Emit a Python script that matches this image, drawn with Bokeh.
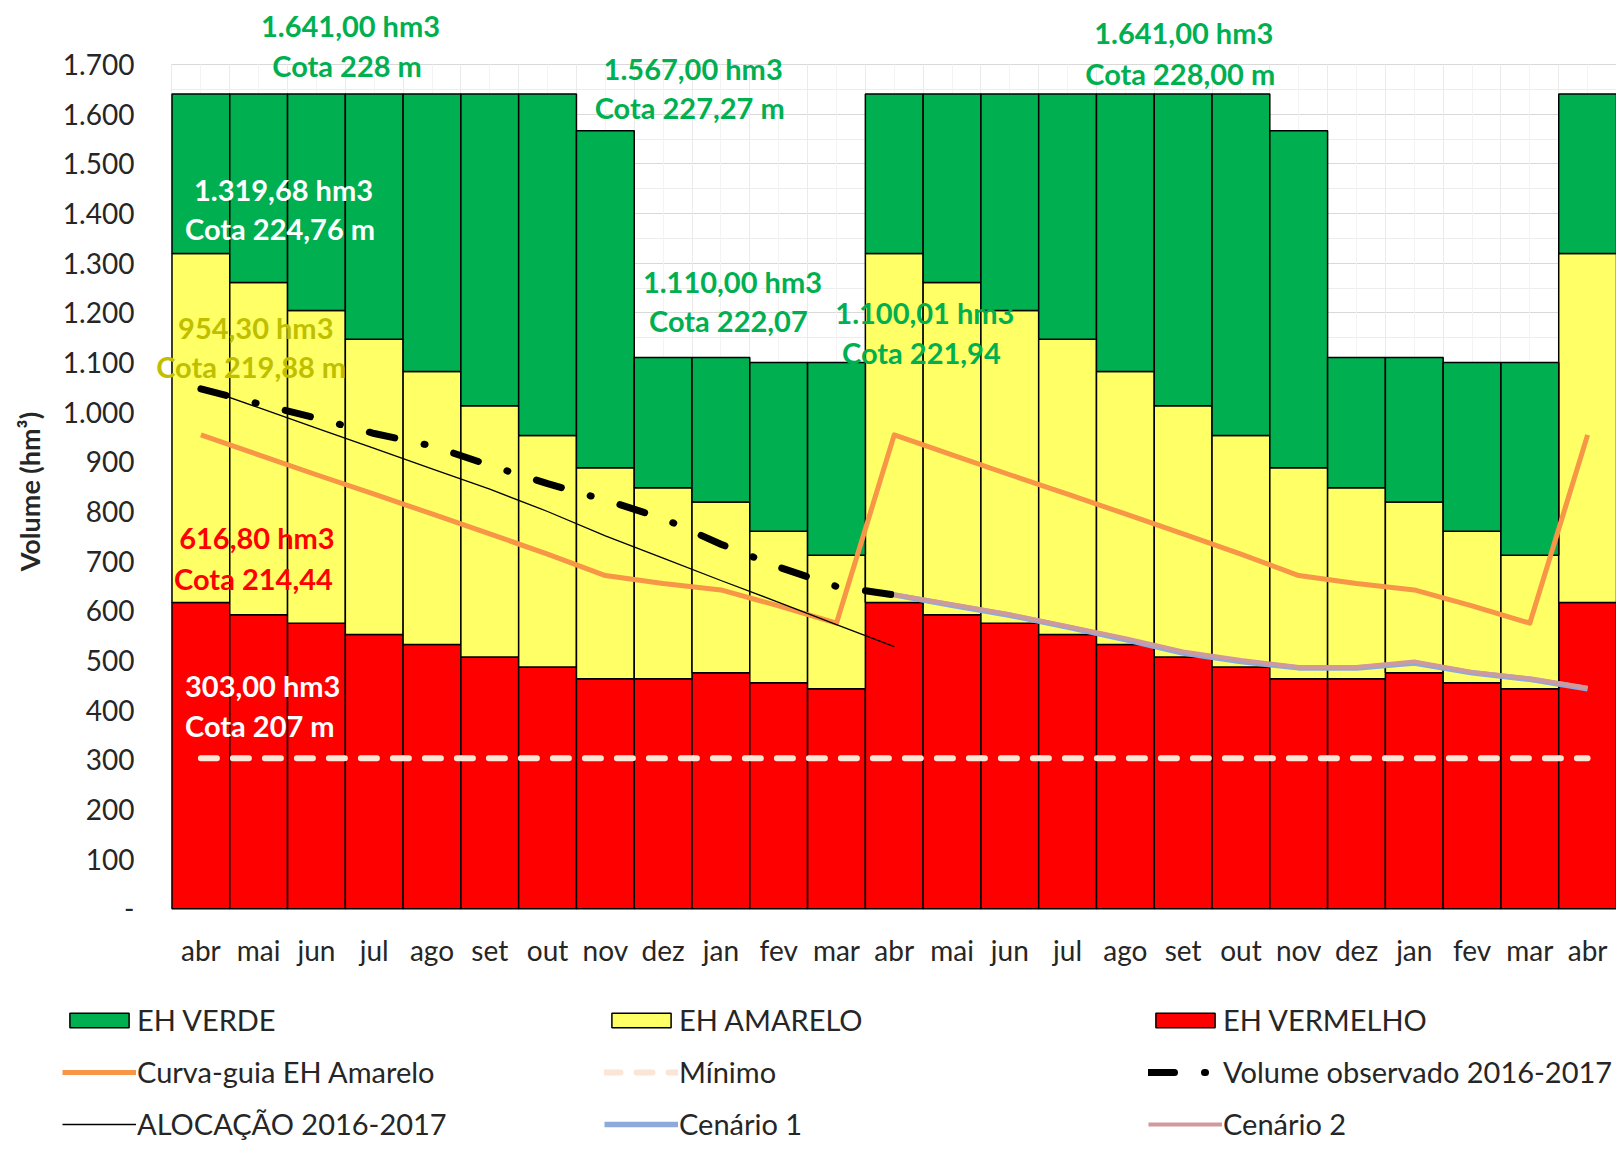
import math
from bokeh.plotting import figure
from bokeh.models import Range1d, FixedTicker, Grid, Legend, LegendItem
from bokeh.core.properties import value
from bokeh.embed import file_html
from bokeh.resources import INLINE

# ---------------- data ----------------
months = ["abr", "mai", "jun", "jul", "ago", "set", "out", "nov", "dez", "jan", "fev", "mar",
          "abr", "mai", "jun", "jul", "ago", "set", "out", "nov", "dez", "jan", "fev", "mar", "abr"]

# upper limit of each hydrological state zone (hm3)
vermelho_top = [616.8, 592, 575, 552, 532, 507, 487, 463, 463, 475, 455, 443,
                616.8, 592, 575, 552, 532, 507, 487, 463, 463, 475, 455, 443, 616.8]
amarelo_top = [1319.68, 1261, 1205, 1147, 1082, 1013, 953, 888, 848, 819, 760, 712,
               1319.68, 1261, 1205, 1147, 1082, 1013, 953, 888, 848, 819, 760, 712, 1319.68]
verde_top = [1641, 1641, 1641, 1641, 1641, 1641, 1641, 1567, 1110, 1110, 1100.01, 1100.01,
             1641, 1641, 1641, 1641, 1641, 1641, 1641, 1567, 1110, 1110, 1100.01, 1100.01, 1641]

curva_guia = [954.3, 914, 874, 835, 795, 755, 714, 671, 655, 642, 610, 575,
              954.3, 914, 874, 835, 795, 755, 714, 671, 655, 642, 610, 575, 954.3]
minimo = [303.0] * 25

# abr/2016 .. abr/2017
alocacao = [1050, 1009, 968, 927, 886, 845, 800, 751, 706, 661, 617, 572, 528]
observado = [1047, 1017, 988, 957, 932, 893, 856, 823, 786, 734, 688, 649, 632]
# abr/2017 .. abr/2018
cenario1 = [632, 611, 591, 567, 542, 515, 498, 485, 485, 495, 475, 462, 443]
cenario2 = [633, 613, 593, 569, 545, 518, 501, 487, 487, 498, 477, 464, 445]

y_ticks = [0, 100, 200, 300, 400, 500, 600, 700, 800, 900, 1000, 1100, 1200, 1300, 1400, 1500, 1600, 1700]
y_tick_labels = ["-", "100", "200", "300", "400", "500", "600", "700", "800", "900", "1.000",
                 "1.100", "1.200", "1.300", "1.400", "1.500", "1.600", "1.700"]
y_title = "Volume (hm³)"

annot_texts = ["1.641,00 hm3", "Cota 228 m", "1.567,00 hm3", "Cota 227,27 m",
               "1.110,00 hm3", "Cota 222,07", "1.100,01 hm3", "Cota 221,94",
               "1.641,00 hm3", "Cota 228,00 m", "1.319,68 hm3", "Cota 224,76 m",
               "954,30 hm3", "Cota 219,88 m", "616,80 hm3", "Cota 214,44",
               "303,00 hm3", "Cota 207 m"]

# ---------------- styling / placement ----------------
GREEN, YELLOW, RED = "#00B050", "#FFFF66", "#FF0000"
FONT = "Lato"
TXT = "#262626"

annot_x = [2.59, 2.53, 8.52, 8.46, 9.20, 9.13, 12.53, 12.47, 17.01, 16.95,
           1.43, 1.37, 0.95, 0.87, 0.97, 0.91, 1.07, 1.02]
annot_y = [1779, 1698, 1693, 1613, 1263, 1185, 1200, 1121, 1764, 1682,
           1448, 1369, 1171, 1092, 747, 666, 450, 369]
annot_colors = [GREEN] * 10 + ["#FFFFFF"] * 2 + ["#BFBF00"] * 2 + [RED] * 2 + ["#FFFFFF"] * 2

W, H = 1616, 1146
TICK_LABEL_X = -1.15      # data-x where the y tick labels end
TITLE_X, TITLE_Y = -2.97, 840
MONTH_LABEL_Y = -84

x = list(range(len(months)))
n_first = len(alocacao)
XMIN, XMAX = -0.5, len(months) - 0.5

p = figure(width=W, height=H,
           x_range=Range1d(-3.468, XMAX), y_range=Range1d(-478.9, 1829.1),
           x_axis_location=None, y_axis_location=None,
           output_backend="svg", toolbar_location=None,
           min_border_left=0, min_border_right=0, min_border_top=0, min_border_bottom=0)
p.outline_line_color = None
p.background_fill_color = "white"
p.border_fill_color = "white"
p.grid.visible = False

# grids limited to the plotting area
p.add_layout(Grid(dimension=1,
                  ticker=FixedTicker(ticks=y_ticks, minor_ticks=[t + 50 for t in y_ticks[:-1]]),
                  cross_bounds=(XMIN, XMAX),
                  grid_line_color="#D9D9D9", minor_grid_line_color="#EDEDED"))
p.add_layout(Grid(dimension=0,
                  ticker=FixedTicker(ticks=[i - 0.5 for i in x] + [x[-1] + 0.5], minor_ticks=x),
                  cross_bounds=(y_ticks[0], y_ticks[-1]),
                  grid_line_color="#EBEBEB", minor_grid_line_color="#F3F3F3"))

# stacked zones
bar_kw = dict(width=1.0, line_color="#000000", line_width=1.5)
r_red = p.vbar(x=x, bottom=0, top=vermelho_top, fill_color=RED, **bar_kw)
r_yel = p.vbar(x=x, bottom=vermelho_top, top=amarelo_top, fill_color=YELLOW, **bar_kw)
r_grn = p.vbar(x=x, bottom=amarelo_top, top=verde_top, fill_color=GREEN, **bar_kw)

# lines
r_curva = p.line(x, curva_guia, line_color="#F79646", line_width=5, line_join="round")
r_aloc = p.line(x[:n_first], alocacao, line_color="#000000", line_width=1.3)
r_obs = p.line(x[:n_first], observado, line_color="#000000", line_width=7,
               line_dash="26 30 1 30", line_cap="round")
r_min = p.line(x, minimo, line_color="#FBE5D6", line_width=6, line_dash="16 16", line_cap="round")
r_c1 = p.line(x[n_first - 1:], cenario1, line_color="#8EA9DB", line_width=5.5, line_join="round")
r_c2 = p.line(x[n_first - 1:], cenario2, line_color="#D09A9C", line_width=4, line_join="round")

# axis texts
p.text(x=[TICK_LABEL_X] * len(y_ticks), y=y_ticks, text=y_tick_labels,
       text_font=value(FONT), text_font_size="28px", text_color=TXT,
       text_align="right", text_baseline="middle")
p.text(x=x, y=[MONTH_LABEL_Y] * len(x), text=months,
       text_font=value(FONT), text_font_size="28px", text_color=TXT,
       text_align="center", text_baseline="middle")
p.text(x=[TITLE_X], y=[TITLE_Y], text=[y_title], angle=math.pi / 2,
       text_font=value(FONT), text_font_size="27px", text_font_style="bold", text_color=TXT,
       text_align="center", text_baseline="middle")

# annotations
p.text(x=annot_x, y=annot_y, text=annot_texts, text_color=annot_colors,
       text_font=value(FONT), text_font_size="29px", text_font_style="bold",
       text_align="center", text_baseline="middle")

# legends (three columns)
columns = [
    [("EH VERDE", r_grn), ("Curva-guia EH Amarelo", r_curva), ("ALOCAÇÃO 2016-2017", r_aloc)],
    [("EH AMARELO", r_yel), ("Mínimo", r_min), ("Cenário 1", r_c1)],
    [("EH VERMELHO", r_red), ("Volume observado 2016-2017", r_obs), ("Cenário 2", r_c2)],
]
col_x = [62, 604, 1148]
for cx, items in zip(col_x, columns):
    leg = Legend(items=[LegendItem(label=lab, renderers=[r]) for lab, r in items],
                 location=(cx, 5), orientation="vertical",
                 border_line_color=None, background_fill_alpha=0,
                 label_text_font=FONT, label_text_font_size="29px", label_text_color=TXT,
                 glyph_width=74, glyph_height=18, label_height=34, label_standoff=1,
                 spacing=17, padding=0, margin=0)
    p.add_layout(leg)

open("out.html", "w").write(file_html(p, INLINE, "Volume"))
